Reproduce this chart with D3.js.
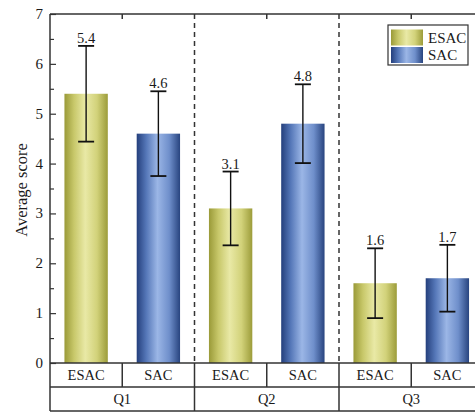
<!DOCTYPE html>
<html>
<head>
<meta charset="utf-8">
<script src="https://cdn.jsdelivr.net/npm/d3@7"></script>
<style>
  html, body { margin: 0; padding: 0; background: #fff; }
  svg { display: block; font-family: "Liberation Serif", "Times New Roman", serif; }
</style>
</head>
<body>
<svg id="chart" width="475" height="412"></svg>
<script>
// Survey scores by question group and course type
const groups = ["Q1", "Q2", "Q3"];
const series = ["ESAC", "SAC"];
const esacMeans = [5.4, 3.1, 1.6];
const sacMeans = [4.6, 4.8, 1.7];
const esacErr = [0.96, 0.74, 0.70];
const sacErr = [0.85, 0.79, 0.67];
const yTicks = [0, 1, 2, 3, 4, 5, 6, 7];
const yLabel = "Average score";

const rows = [];
groups.forEach((g, i) => {
  rows.push({ group: g, series: "ESAC", value: esacMeans[i], err: esacErr[i] });
  rows.push({ group: g, series: "SAC", value: sacMeans[i], err: sacErr[i] });
});

const svg = d3.select("#chart");
const plotL = 50, plotT = 14, plotB = 363, plotR = 483.5;
const rowH = 24;
const ink = "#1a1a1a";

const y = d3.scaleLinear().domain([0, 7]).range([plotB, plotT]);
const xGroup = d3.scaleBand().domain(groups).range([plotL, plotR]).paddingInner(0).paddingOuter(0);
const xSeries = d3.scaleBand().domain(series).range([0, xGroup.bandwidth()]);
const barW = xSeries.bandwidth() * 0.6;

// Bar gradients: dark edges, light centre
const defs = svg.append("defs");
const grads = {
  ESAC: ["#9a9a38", "#c8c86a", "#e9e9a6", "#d2d27a", "#9c9c3a"],
  SAC: ["#243f7c", "#5577b8", "#9bb6e6", "#6f8fcb", "#28447f"]
};
Object.entries(grads).forEach(([k, cols]) => {
  const lgr = defs.append("linearGradient").attr("id", "g-" + k)
    .attr("x1", "0%").attr("x2", "100%").attr("y1", "0%").attr("y2", "0%");
  const stops = [0, 0.22, 0.48, 0.75, 1];
  cols.forEach((c, i) => lgr.append("stop").attr("offset", stops[i]).attr("stop-color", c));
});

// Bars
const cx = d => xGroup(d.group) + xSeries(d.series) + xSeries.bandwidth() / 2;
svg.append("g").selectAll("rect").data(rows).join("rect")
  .attr("x", d => cx(d) - barW / 2)
  .attr("y", d => y(d.value))
  .attr("width", barW)
  .attr("height", d => y(0) - y(d.value))
  .attr("fill", d => `url(#g-${d.series})`);

// Error bars
const eb = svg.append("g").attr("stroke", "#111");
eb.selectAll("line.v").data(rows).join("line").attr("class", "v")
  .attr("x1", cx).attr("x2", cx)
  .attr("y1", d => y(d.value + d.err)).attr("y2", d => y(d.value - d.err))
  .attr("stroke-width", 1.4);
[1, -1].forEach(sign => {
  const cls = sign > 0 ? "cp" : "cm";
  eb.selectAll("line." + cls).data(rows).join("line").attr("class", cls)
    .attr("x1", d => cx(d) - 8).attr("x2", d => cx(d) + 8)
    .attr("y1", d => y(d.value + sign * d.err))
    .attr("y2", d => y(d.value + sign * d.err))
    .attr("stroke-width", 1.8);
});

// Value labels
svg.append("g").selectAll("text").data(rows).join("text")
  .attr("x", cx)
  .attr("y", d => y(d.value + d.err) - 3)
  .attr("text-anchor", "middle")
  .attr("font-size", 14.5)
  .attr("fill", ink)
  .text(d => d.value.toFixed(1));

// Y axis (ticks point inward)
const yAxis = d3.axisRight(y).tickValues(yTicks).tickSize(6).tickFormat("");
const gy = svg.append("g").attr("transform", `translate(${plotL},0)`).call(yAxis);
gy.select(".domain").remove();
gy.selectAll(".tick line").attr("stroke", "#333").attr("stroke-width", 1.2);
const yMinor = d3.axisRight(y).tickValues(d3.range(0.5, 7, 1)).tickSize(4).tickFormat("");
const gym = svg.append("g").attr("transform", `translate(${plotL},0)`).call(yMinor);
gym.select(".domain").remove();
gym.selectAll(".tick line").attr("stroke", "#333").attr("stroke-width", 1.2);
svg.append("g").selectAll("text").data(yTicks).join("text")
  .attr("x", 43).attr("y", d => y(d) + 5)
  .attr("text-anchor", "end").attr("font-size", 15).attr("fill", ink)
  .text(d => d);

// Y label
svg.append("text")
  .attr("transform", `translate(27,190) rotate(-90)`)
  .attr("text-anchor", "middle").attr("font-size", 16.5).attr("fill", ink)
  .text(yLabel);

// Frame: top and left axes, baseline and label table
const frame = svg.append("g").attr("stroke", "#333").attr("stroke-width", 1.5).attr("fill", "none");
frame.append("line").attr("x1", plotL).attr("x2", plotR).attr("y1", plotT).attr("y2", plotT);
frame.append("line").attr("x1", plotL).attr("x2", plotL).attr("y1", plotT).attr("y2", plotB + 2 * rowH);
frame.append("line").attr("x1", plotL).attr("x2", plotR).attr("y1", plotB).attr("y2", plotB);
frame.append("line").attr("x1", plotL).attr("x2", plotR).attr("y1", plotB + rowH).attr("y2", plotB + rowH);
frame.append("line").attr("x1", plotL).attr("x2", plotR).attr("y1", plotB + 2 * rowH).attr("y2", plotB + 2 * rowH);

// Top ticks at series boundaries within each group
groups.forEach(g => {
  const xb = xGroup(g) + xSeries.bandwidth();
  frame.append("line").attr("x1", xb).attr("x2", xb).attr("y1", plotT).attr("y2", plotT + 5);
  frame.append("line").attr("x1", xb).attr("x2", xb).attr("y1", plotB).attr("y2", plotB + rowH);
});

// Group separators: dashed in plot, solid in label table
groups.slice(1).forEach(g => {
  const xg = xGroup(g);
  frame.append("line").attr("x1", xg).attr("x2", xg).attr("y1", plotT).attr("y2", plotB)
    .attr("stroke-dasharray", "5,4");
  frame.append("line").attr("x1", xg).attr("x2", xg).attr("y1", plotB).attr("y2", plotB + 2 * rowH);
});

// Category and group labels
svg.append("g").selectAll("text").data(rows).join("text")
  .attr("x", cx).attr("y", plotB + rowH / 2 + 5)
  .attr("text-anchor", "middle").attr("font-size", 14.5).attr("fill", ink)
  .text(d => d.series);
svg.append("g").selectAll("text").data(groups).join("text")
  .attr("x", d => xGroup(d) + xGroup.bandwidth() / 2).attr("y", plotB + rowH * 1.5 + 5)
  .attr("text-anchor", "middle").attr("font-size", 14.5).attr("fill", ink)
  .text(d => d);

// Legend
const legend = svg.append("g").attr("transform", "translate(388,25)");
legend.append("rect").attr("width", 80).attr("height", 40).attr("fill", "#fff")
  .attr("stroke", "#333").attr("stroke-width", 1.2);
series.forEach((s, i) => {
  legend.append("rect").attr("x", 3).attr("y", 4.5 + i * 17.5).attr("width", 32).attr("height", 16)
    .attr("fill", `url(#g-${s})`);
  legend.append("text").attr("x", 40).attr("y", 18 + i * 17)
    .attr("font-size", 15).attr("fill", ink).text(s);
});
</script>
</body>
</html>
